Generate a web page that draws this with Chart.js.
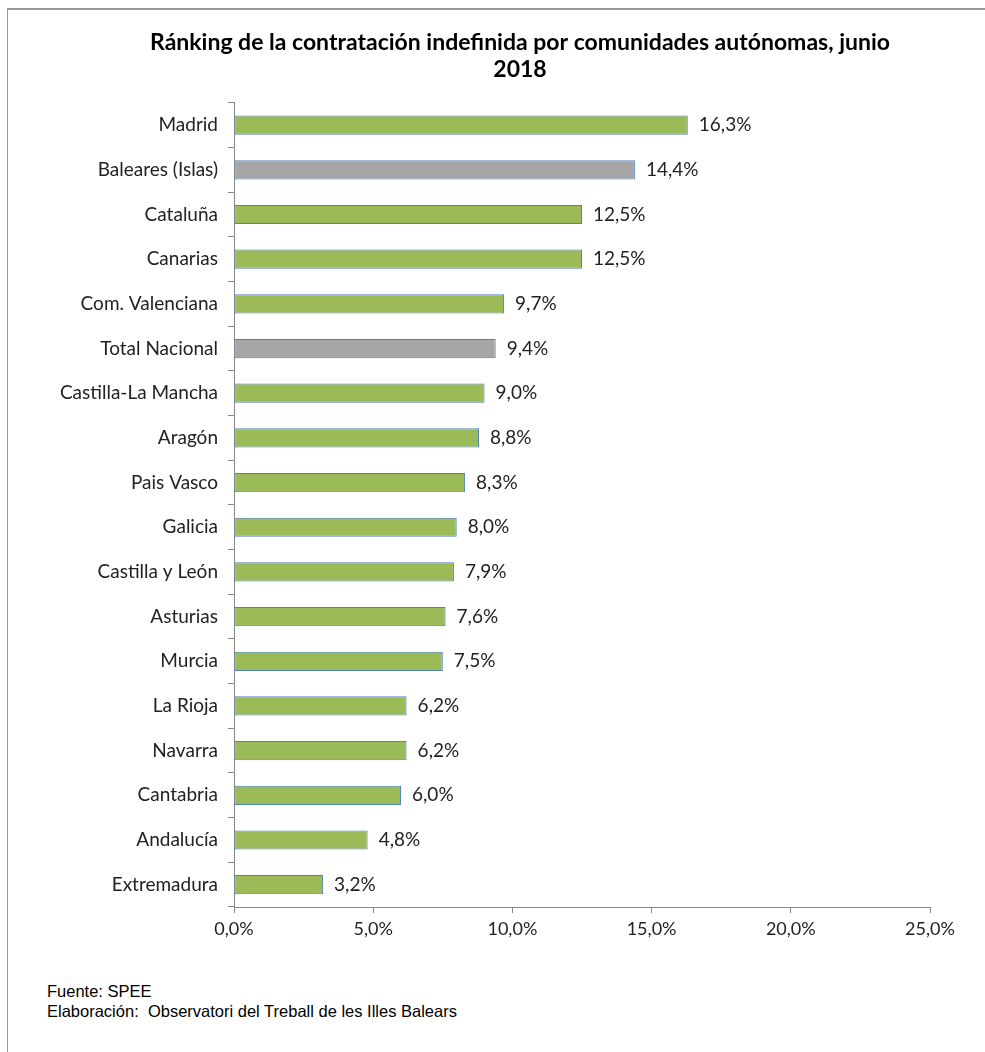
<!DOCTYPE html>
<html>
<head>
<meta charset="utf-8">
<script src="https://cdn.jsdelivr.net/npm/chart.js@4/dist/chart.umd.min.js"></script>
<style>
  html, body { margin: 0; padding: 0; background: #fff; }
  body { width: 985px; height: 1052px; position: relative; overflow: hidden; }
  #frame {
    position: absolute; left: 7px; top: 8px; width: 1000px; height: 1100px;
    border-left: 1px solid #9a9a9a; border-top: 2px solid #9a9a9a;
  }
  #wrap { position: absolute; left: 0; top: 0; width: 985px; height: 960px; }
  #note {
    position: absolute; left: 47px; top: 981px;
    font-family: "Liberation Sans", Arial, sans-serif; font-size: 16.5px; line-height: 20px; color: #000;
  }
</style>
</head>
<body>
<div id="frame"></div>
<div id="wrap"><canvas id="rankChart"></canvas></div>
<div id="note">Fuente: SPEE<br>Elaboración:&nbsp; Observatori del Treball de les Illes Balears</div>

<script>
// =======================
// Data
// =======================

const regions = [
  "Madrid", "Baleares (Islas)", "Cataluña", "Canarias", "Com. Valenciana",
  "Total Nacional", "Castilla-La Mancha", "Aragón", "Pais Vasco", "Galicia",
  "Castilla y León", "Asturias", "Murcia", "La Rioja", "Navarra",
  "Cantabria", "Andalucía", "Extremadura"
];

const shares = [
  16.3, 14.4, 12.5, 12.5, 9.7,
  9.4, 9.0, 8.8, 8.3, 8.0,
  7.9, 7.6, 7.5, 6.2, 6.2,
  6.0, 4.8, 3.2
];

// bars shown in grey instead of green
const highlighted = ["Baleares (Islas)", "Total Nacional"];

const xTicks = [0, 5, 10, 15, 20, 25];

const titleLines = [
  "Ránking de la contratación indefinida por comunidades autónomas, junio",
  "2018"
];

// =======================
// Helpers
// =======================

const fmt = v => v.toFixed(1).replace(".", ",") + "%";
const FONT = "Lato, 'Open Sans', sans-serif";

const barLabels = {
  id: "barLabels",
  afterDatasetsDraw(chart) {
    const ctx = chart.ctx;
    const meta = chart.getDatasetMeta(0);
    ctx.save();
    ctx.font = "19px " + FONT;
    ctx.fillStyle = "#222";
    ctx.textAlign = "left";
    ctx.textBaseline = "middle";
    meta.data.forEach((bar, i) => {
      ctx.fillText(fmt(shares[i]), bar.x + 11, bar.y);
    });
    ctx.restore();
  }
};

// =======================
// Ranking Chart
// =======================

const rankChart = document.getElementById("rankChart");

if (rankChart) {
  new Chart(rankChart, {
    type: "bar",
    data: {
      labels: regions,
      datasets: [
        {
          data: shares,
          backgroundColor: regions.map(r => highlighted.includes(r) ? "#A6A6A6" : "#9BBB59"),
          borderColor: "#4F81BD",
          borderWidth: 1,
          borderSkipped: false,
          categoryPercentage: 1,
          barPercentage: 0.43
        }
      ]
    },
    options: {
      indexAxis: "y",
      responsive: true,
      maintainAspectRatio: false,
      animation: false,
      layout: { padding: { left: 55, right: 0, top: 0, bottom: 0 } },
      plugins: {
        legend: { display: false },
        tooltip: { enabled: false },
        title: {
          display: true,
          text: titleLines,
          color: "#000",
          font: { family: FONT, size: 23, weight: "bold", lineHeight: 1.17 },
          padding: { top: 29, bottom: 20 }
        }
      },
      scales: {
        x: {
          min: 0,
          max: 25,
          afterBuildTicks: axis => { axis.ticks = xTicks.map(v => ({ value: v })); },
          afterFit: axis => { axis.height = 53; axis.paddingRight = 55; },
          grid: { drawOnChartArea: false, tickLength: 6, color: "#888" },
          border: { color: "#888" },
          ticks: {
            callback: v => fmt(v),
            color: "#222",
            padding: 5,
            font: { family: FONT, size: 18 }
          }
        },
        y: {
          offset: true,
          afterFit: axis => { axis.width = 179; },
          grid: { offset: true, drawOnChartArea: false, tickLength: 6, color: "#888" },
          border: { color: "#888" },
          ticks: {
            color: "#222",
            padding: 10,
            autoSkip: false,
            font: { family: FONT, size: 19 }
          }
        }
      }
    },
    plugins: [barLabels]
  });
}
</script>
</body>
</html>
